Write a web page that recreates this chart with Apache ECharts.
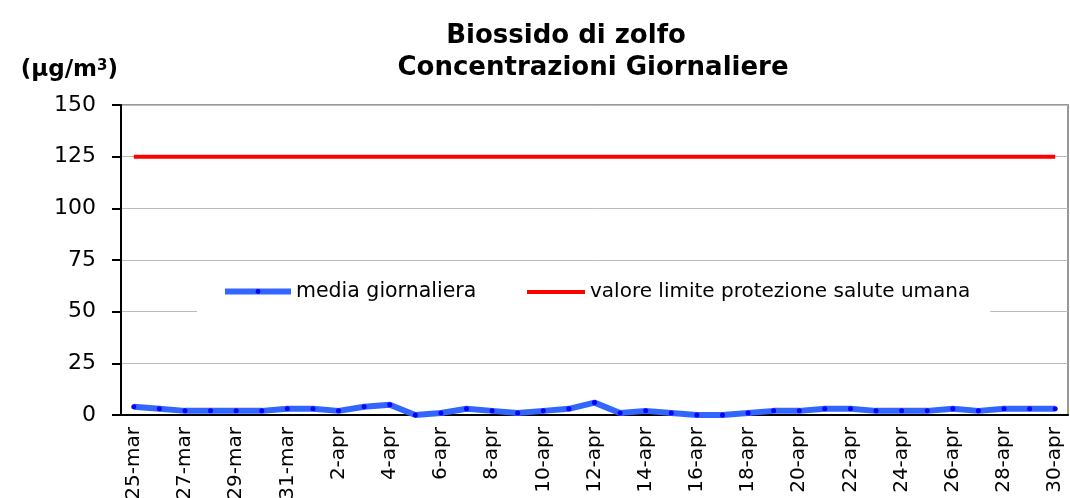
<!DOCTYPE html>
<html>
<head>
<meta charset="utf-8">
<script src="https://cdn.jsdelivr.net/npm/echarts@6/dist/echarts.min.js"></script>
<style>
html, body { margin: 0; padding: 0; background: #fff; }
#main { width: 1070px; height: 498px; }
</style>
</head>
<body>
<div id="main"></div>
<script>
var days = ['25-mar', '26-mar', '27-mar', '28-mar', '29-mar', '30-mar', '31-mar',
	'1-apr', '2-apr', '3-apr', '4-apr', '5-apr', '6-apr', '7-apr', '8-apr', '9-apr', '10-apr',
	'11-apr', '12-apr', '13-apr', '14-apr', '15-apr', '16-apr', '17-apr', '18-apr', '19-apr', '20-apr',
	'21-apr', '22-apr', '23-apr', '24-apr', '25-apr', '26-apr', '27-apr', '28-apr', '29-apr', '30-apr'];
// media giornaliera (ug/m3)
var mediaGiornaliera = [4, 3, 2, 2, 2, 2, 3, 3, 2, 4, 5, 0, 1, 3, 2, 1, 2, 3, 6,
	1, 2, 1, 0, 0, 1, 2, 2, 3, 3, 2, 2, 2, 3, 2, 3, 3, 3];
// valore limite
var valoreLimite = [125, 125, 125, 125, 125, 125, 125, 125, 125, 125, 125, 125, 125,
	125, 125, 125, 125, 125, 125, 125, 125, 125, 125, 125, 125, 125, 125, 125, 125,
	125, 125, 125, 125, 125, 125, 125, 125];
var yTicks = [0, 25, 50, 75, 100, 125, 150];

var font = 'DejaVu Sans';
var myChart = echarts.init(document.getElementById('main'));

var option = {
	animation: false,
	title: [{
		text: 'Biossido di zolfo',
		left: 561,
		top: 18,
		textAlign: 'center',
		textStyle: { fontFamily: font, fontSize: 26, fontWeight: 'bold', color: '#000' }
	}, {
		text: 'Concentrazioni Giornaliere',
		left: 588,
		top: 50,
		textAlign: 'center',
		textStyle: { fontFamily: font, fontSize: 26, fontWeight: 'bold', color: '#000' }
	}],
	// due legende affiancate, sfondo bianco sopra la griglia
	legend: [{
		data: [{ name: 'media giornaliera', lineStyle: { width: 6 } }],
		left: 197,
		top: 271,
		padding: [10, 32, 16, 25],
		backgroundColor: '#fff',
		itemWidth: 66,
		itemHeight: 6,
		textStyle: { fontFamily: font, fontSize: 20.5, color: '#000' }
	}, {
		data: [{ name: 'valore limite protezione salute umana', icon: 'rect' }],
		left: 500,
		top: 271,
		padding: [11, 20, 16, 27],
		backgroundColor: '#fff',
		itemWidth: 58,
		itemHeight: 4,
		textStyle: { fontFamily: font, fontSize: 20, color: '#000' }
	}],
	grid: {
		left: 121,
		right: 2,
		top: 105,
		bottom: 83,
		outerBoundsMode: 'none',
		show: true,
		borderColor: '#999',
		borderWidth: 2
	},
	xAxis: {
		type: 'category',
		data: days,
		boundaryGap: true,
		axisLine: { lineStyle: { color: '#000', width: 2 } },
		axisTick: { interval: 1, length: 6, lineStyle: { color: '#000', width: 2 } },
		axisLabel: {
			interval: 1,
			rotate: 90,
			margin: 12,
			fontFamily: font,
			fontSize: 20,
			color: '#000'
		}
	},
	yAxis: {
		type: 'value',
		min: 0,
		max: 150,
		interval: 25,
		name: '(\u03bcg/m{sup|3})',
		nameLocation: 'end',
		nameGap: 35,
		nameTextStyle: {
			fontFamily: font, fontSize: 23, fontWeight: 'bold', color: '#000',
			align: 'right', verticalAlign: 'middle', padding: [0, 3, 0, 0],
			rich: {
				sup: { fontFamily: font, fontSize: 15, fontWeight: 'bold', color: '#000', verticalAlign: 'top' }
			}
		},
		axisLine: { show: true, lineStyle: { color: '#000', width: 2 } },
		axisTick: { show: true, length: 9, lineStyle: { color: '#000', width: 2 } },
		axisLabel: {
			margin: 25,
			fontFamily: font,
			fontSize: 22,
			color: '#000',
			formatter: function(v) { return yTicks.indexOf(v) >= 0 ? String(v) : ''; }
		},
		splitLine: { lineStyle: { color: '#bbb', width: 1 } }
	},
	series: [{
		name: 'media giornaliera',
		type: 'line',
		data: mediaGiornaliera,
		symbol: 'circle',
		symbolSize: 5,
		showAllSymbol: true,
		itemStyle: { color: '#0000ff' },
		lineStyle: { color: '#3366ff', width: 6 },
		z: 3
	}, {
		name: 'valore limite protezione salute umana',
		type: 'line',
		data: valoreLimite,
		symbol: 'none',
		itemStyle: { color: '#ff0000' },
		lineStyle: { color: '#ff0000', width: 4 },
		z: 2
	}]
};

myChart.setOption(option);
</script>
</body>
</html>
